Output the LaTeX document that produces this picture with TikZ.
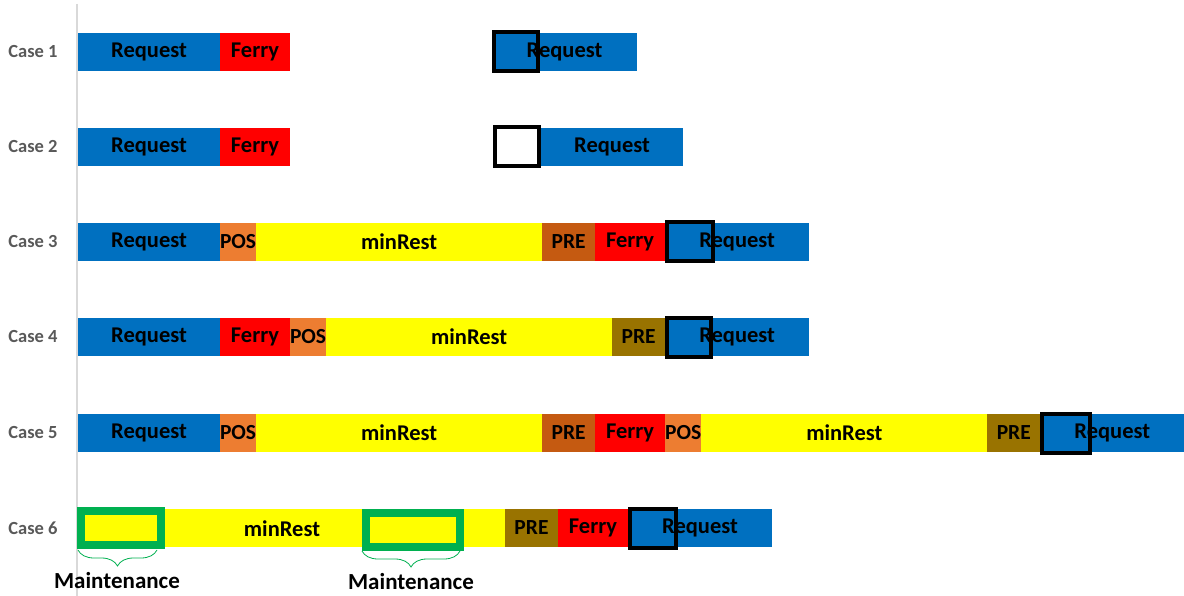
\documentclass[tikz,border=0pt]{standalone}
\usepackage{fontspec}
\setmainfont{Carlito}
\usepackage{xcolor}
\usetikzlibrary{positioning,calc,decorations.pathreplacing}
\definecolor{reqblue}{RGB}{0,112,192}
\definecolor{ferryred}{RGB}{255,0,0}
\definecolor{restyellow}{RGB}{255,255,0}
\definecolor{posorange}{RGB}{237,125,49}
\definecolor{prebrown}{RGB}{197,90,17}
\definecolor{preolive}{RGB}{153,115,0}
\definecolor{maintgreen}{RGB}{0,176,80}
\definecolor{casegray}{RGB}{89,89,89}
\definecolor{axisgray}{RGB}{217,217,217}
\tikzset{
  seg/.style={minimum height=38pt, inner sep=0pt, outer sep=0pt,
    font=\fontsize{22.5}{26}\selectfont\bfseries},
  smallseg/.style={seg, font=\fontsize{21.5}{25}\selectfont\bfseries},
  reqseg/.style={seg, fill=reqblue, minimum width=144pt},
  ferryseg/.style={seg, fill=ferryred, minimum width=70pt},
  posseg/.style={smallseg, fill=posorange, minimum width=36pt},
  restseg/.style={seg, fill=restyellow, minimum width=286pt},
  preseg/.style={smallseg, fill=prebrown, minimum width=53pt},
  preoseg/.style={smallseg, fill=preolive, minimum width=53pt},
  holdbox/.style={draw=black, line width=4pt, minimum width=44pt, minimum height=39pt, inner sep=0pt},
  maintbox/.style={draw=maintgreen, fill=restyellow, line width=8pt, minimum height=34pt, inner sep=0pt},
  maintbrace/.style={draw=maintgreen, line width=0.8pt, decorate, decoration={brace, mirror, amplitude=16pt}},
  caselabel/.style={text=casegray, font=\fontsize{18.5}{22}\selectfont\bfseries},
  maintlabel/.style={font=\fontsize{23}{26}\selectfont\bfseries}
}
\begin{document}
\begin{tikzpicture}[x=1pt,y=-1pt]
  \useasboundingbox (0,0) rectangle (1184,596);
  % time axis
  \draw[axisgray, line width=1.5pt] (77,4) -- (77,596);
  % case labels
  \foreach \i/\y in {1/52,2/147,3/242,4/337,5/433,6/528}
    \node[caselabel] (case\i) at (33,\y) {Case \i};

  % case 1
  \node[reqseg, minimum width=142pt, anchor=west] (r1a) at (78,52) {Request};
  \node[ferryseg, right=0pt of r1a] (r1b) {Ferry};
  \node[reqseg, minimum width=145pt, anchor=west] (r1c) at (492,52) {Request};
  \node[holdbox, anchor=west] (h1) at (r1c.west) {};

  % case 2
  \node[reqseg, minimum width=142pt, anchor=west] (r2a) at (78,147) {Request};
  \node[ferryseg, right=0pt of r2a] (r2b) {Ferry};
  \node[reqseg, minimum width=142pt, anchor=west] (r2c) at (541,147) {Request};
  \node[holdbox, fill=white, anchor=east] (h2) at (r2c.west) {};

  % case 3
  \node[reqseg, minimum width=142pt, anchor=west] (r3a) at (78,242) {Request};
  \node[posseg, right=0pt of r3a] (r3b) {POS};
  \node[restseg, right=0pt of r3b] (r3c) {minRest};
  \node[preseg, right=0pt of r3c] (r3d) {PRE};
  \node[ferryseg, right=0pt of r3d] (r3e) {Ferry};
  \node[reqseg, right=0pt of r3e] (r3f) {Request};
  \node[holdbox, minimum width=46pt, anchor=west] (h3) at (r3f.west) {};

  % case 4
  \node[reqseg, minimum width=142pt, anchor=west] (r4a) at (78,337) {Request};
  \node[ferryseg, right=0pt of r4a] (r4b) {Ferry};
  \node[posseg, right=0pt of r4b] (r4c) {POS};
  \node[restseg, right=0pt of r4c] (r4d) {minRest};
  \node[preoseg, right=0pt of r4d] (r4e) {PRE};
  \node[reqseg, right=0pt of r4e] (r4f) {Request};
  \node[holdbox, anchor=west] (h4) at (r4f.west) {};

  % case 5
  \node[reqseg, minimum width=142pt, anchor=west] (r5a) at (78,433) {Request};
  \node[posseg, right=0pt of r5a] (r5b) {POS};
  \node[restseg, right=0pt of r5b] (r5c) {minRest};
  \node[preseg, right=0pt of r5c] (r5d) {PRE};
  \node[ferryseg, right=0pt of r5d] (r5e) {Ferry};
  \node[posseg, right=0pt of r5e] (r5f) {POS};
  \node[restseg, right=0pt of r5f] (r5g) {minRest};
  \node[preoseg, right=0pt of r5g] (r5h) {PRE};
  \node[reqseg, right=0pt of r5h] (r5i) {Request};
  \node[holdbox, minimum width=48pt, anchor=west] (h5) at (r5i.west) {};

  % case 6
  \node[restseg, minimum width=428pt, anchor=west] (r6a) at (77,528) {};
  \node[preoseg, right=0pt of r6a] (r6b) {PRE};
  \node[ferryseg, right=0pt of r6b] (r6c) {Ferry};
  \node[reqseg, right=0pt of r6c] (r6d) {Request};
  \node[holdbox, minimum width=46pt, anchor=west] (h6) at (r6d.west) {};
  \node[seg] (t6) at (282,529) {minRest};
  % maintenance windows
  \node[maintbox, minimum width=80pt, anchor=west] (m1) at (77,528) {};
  \node[maintbox, minimum width=94pt, anchor=west] (m2) at (362,530) {};
  \draw[maintbrace] ($(m1.south west)+(1,1)$) -- ($(m1.south east)+(-8,1)$);
  \draw[maintbrace] ($(m2.south west)+(0,0)$) -- ($(m2.south east)+(-4,0)$);
  \node[maintlabel] (ml1) at (117,581) {Maintenance};
  \node[maintlabel] (ml2) at (411,582) {Maintenance};
\end{tikzpicture}
\end{document}
